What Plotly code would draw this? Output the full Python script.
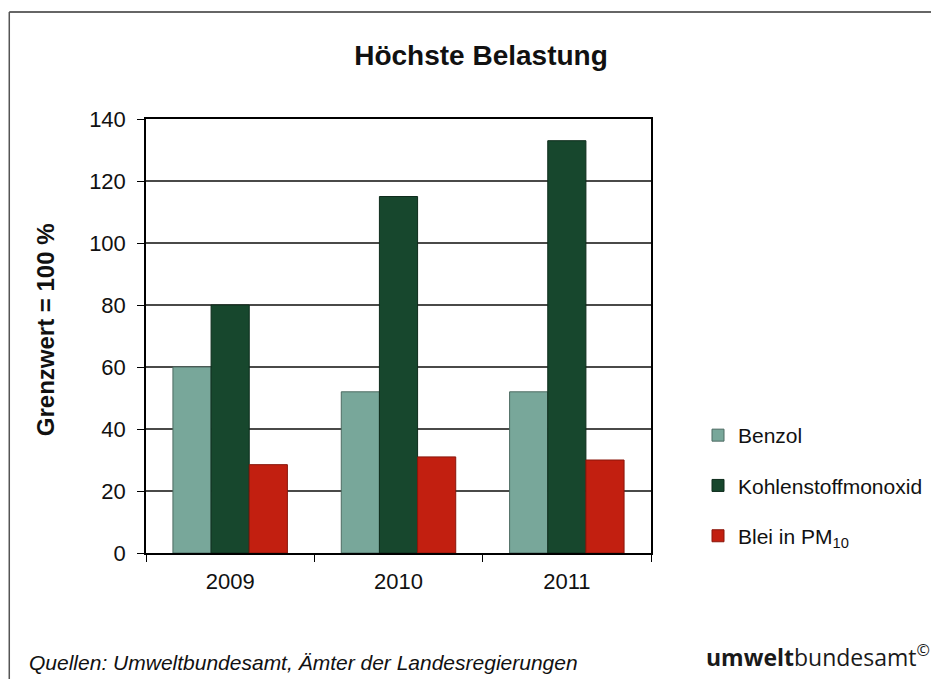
import plotly.graph_objects as go

# Höchste Belastung, Grenzwert = 100 %
jahre = ["2009", "2010", "2011"]
benzol = [60, 52, 52]
kohlenstoffmonoxid = [80, 115, 133]
blei_pm10 = [28.5, 31, 30]
y_ticks = [0, 20, 40, 60, 80, 100, 120, 140]

FONT = "Arial, Liberation Sans, sans-serif"

fig = go.Figure()
fig.add_trace(go.Bar(x=jahre, y=benzol, name="Benzol", legendgroup="a",
                     marker=dict(color="#78a79a", line=dict(color="#4d6b62", width=1))))
fig.add_trace(go.Bar(x=jahre, y=kohlenstoffmonoxid, name="Kohlenstoffmonoxid", legendgroup="b",
                     marker=dict(color="#17472d", line=dict(color="#0e2c1c", width=1))))
fig.add_trace(go.Bar(x=jahre, y=blei_pm10, name="Blei in PM<sub>10</sub>", legendgroup="c",
                     marker=dict(color="#c21f10", line=dict(color="#8a160b", width=1))))

# Seite hat 8px Rand, daher Figur etwas kleiner und alles um 8px verschoben
OFF = 8
W, H = 939 - OFF, 679 - OFF
# Plotbereich im Bild: x 146..652, y 119..553
L, R, T, B = 146, 652, 119, 553
pw, ph = R - L, B - T

def px(x):
    return (x - L) / pw

def py(y):
    return (B - y) / ph

fig.update_layout(
    width=W, height=H,
    margin=dict(l=L - OFF, r=939 - R, t=T - OFF, b=679 - B),
    paper_bgcolor="white", plot_bgcolor="white",
    font=dict(family=FONT, color="#111", size=21),
    barmode="group", bargap=0.32, bargroupgap=0,
    title=dict(text="<b>Höchste Belastung</b>", x=(481 - OFF) / W, xref="container",
               y=1 - (55 - OFF) / H, yref="container", xanchor="center", yanchor="middle",
               font=dict(size=28, family=FONT, color="#111")),
    legend=dict(x=px(698), y=py(415), xanchor="left", yanchor="top",
                font=dict(size=21, family=FONT), tracegroupgap=20,
                bgcolor="rgba(0,0,0,0)"),
    showlegend=True,
)

fig.update_xaxes(showline=True, linecolor="black", linewidth=1.5, mirror=True,
                 ticks="outside", tickson="boundaries", ticklen=7, tickcolor="black",
                 tickfont=dict(size=22), ticklabelstandoff=8, showgrid=False)
fig.update_yaxes(range=[0, 140], tickvals=y_ticks, showline=True, linecolor="black",
                 linewidth=1.5, mirror=True, ticks="outside", ticklen=7, tickcolor="black",
                 tickfont=dict(size=22), ticklabelstandoff=7,
                 showgrid=True, gridcolor="#4a4a48", gridwidth=1.5, zeroline=False)

# Achsentitel
fig.add_annotation(text="<b>Grenzwert = 100 %</b>", x=px(45), y=py(330), xref="paper", yref="paper",
                   textangle=-90, showarrow=False, font=dict(size=24, family=FONT, color="#111"),
                   xanchor="center", yanchor="middle")

# Quelle und Logo
fig.add_annotation(text="<i>Quellen: Umweltbundesamt, Ämter der Landesregierungen</i>",
                   x=px(27), y=py(662), xref="paper", yref="paper", showarrow=False,
                   xanchor="left", yanchor="middle", font=dict(size=21, family=FONT, color="#111"))
fig.add_annotation(text="<b>umwelt</b>bundesamt<sup>©</sup>",
                   x=px(934), y=py(656), xref="paper", yref="paper", showarrow=False,
                   xanchor="right", yanchor="middle",
                   font=dict(size=23, family="Open Sans, Noto Sans, sans-serif", color="#1a1a1a"))

# Rahmen
fig.add_shape(type="line", xref="paper", yref="paper", x0=px(9), x1=px(939), y0=py(12), y1=py(12),
              line=dict(color="#333", width=1.5))
fig.add_shape(type="line", xref="paper", yref="paper", x0=px(9), x1=px(9), y0=py(12), y1=py(679),
              line=dict(color="#555", width=1.5))

fig.write_html("out.html")
